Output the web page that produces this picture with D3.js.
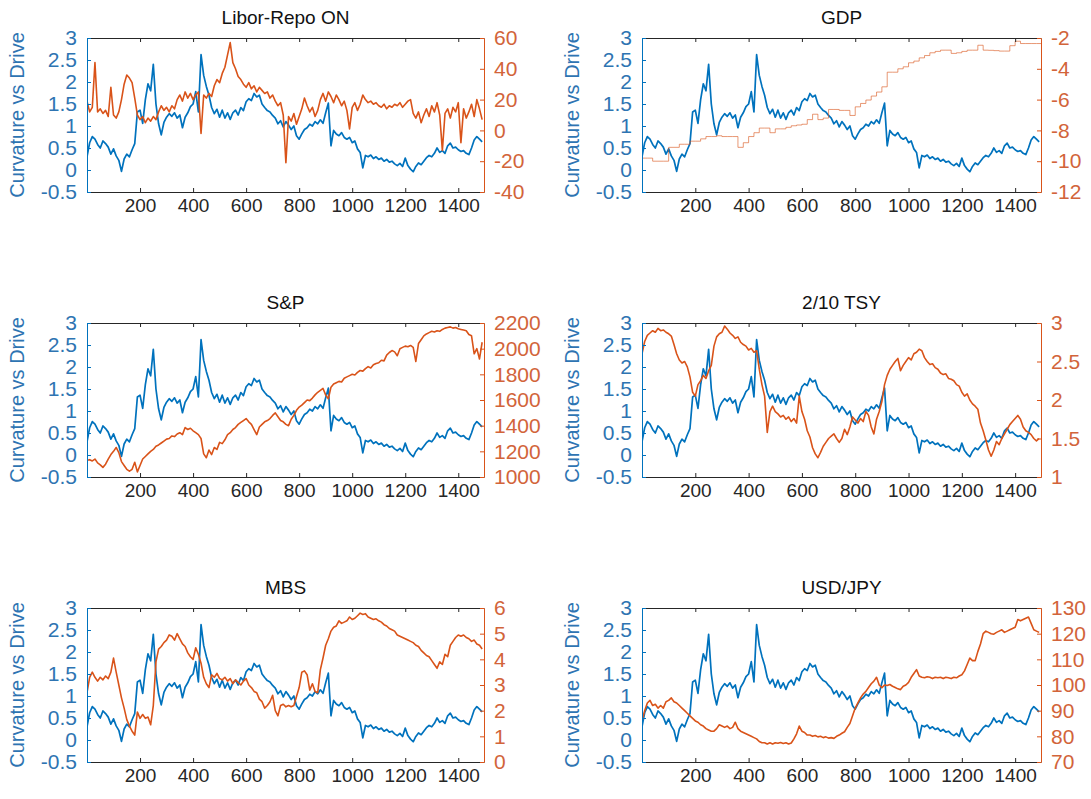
<!DOCTYPE html>
<html>
<head>
<meta charset="utf-8">
<script src="https://cdn.jsdelivr.net/npm/d3@7"></script>
<style>
  body { margin: 0; background: #fff; }
  svg { display: block; font-family: "Liberation Sans", Arial, sans-serif; }
</style>
</head>
<body>
<div id="chart"></div>
<script>
// sample spacing (in index units) of the arrays below
const STEP = 10;
const GDP_STEP = 20;
const X_MAX = 1497;
const X_TICKS = [200, 400, 600, 800, 1000, 1200, 1400];
const LEFT_TICKS = [-0.5, 0, 0.5, 1, 1.5, 2, 2.5, 3];

// blue series, same in every panel (index 0, 10, 20 ...)
const curvature = [
  0.3, 0.62, 0.76, 0.7, 0.58, 0.5, 0.66, 0.6, 0.52, 0.36, 0.48, 0.32, 0.22, -0.03, 0.25, 0.36, 0.3, 0.46, 0.6, 1.32,
  1.36, 1.06, 1.6, 1.96, 1.8, 2.4, 1.5, 1.05, 0.8, 1.08, 1.2, 1.28, 1.22, 1.3, 1.18, 1.25, 0.96, 1.2, 1.3, 1.44,
  1.5, 1.78, 1.32, 2.62, 2.15, 1.9, 1.7, 1.42, 1.28, 1.38, 1.2, 1.36, 1.18, 1.3, 1.15, 1.3, 1.36, 1.25, 1.42, 1.35,
  1.55, 1.62, 1.58, 1.74, 1.66, 1.7, 1.5, 1.42, 1.35, 1.32, 1.24, 1.18, 1.05, 1.12, 0.98, 1.1, 1.02, 0.92, 1.0, 0.78,
  0.7, 0.82, 0.92, 0.96, 1.04, 1.0, 1.1, 1.05, 1.14, 1.06, 1.3, 1.52, 0.55, 0.9, 0.82, 0.78, 0.85, 0.74, 0.7, 0.74,
  0.62, 0.66, 0.48, 0.4, 0.05, 0.33, 0.3, 0.34, 0.26, 0.3, 0.24, 0.27, 0.2, 0.24, 0.18, 0.2, 0.14, 0.1, 0.15, 0.08,
  0.27, 0.1, 0.02, -0.04, 0.08, 0.16, 0.12, 0.2, 0.28, 0.33, 0.3, 0.38, 0.5, 0.4, 0.44, 0.38, 0.55, 0.61, 0.5, 0.52,
  0.46, 0.42, 0.44, 0.38, 0.35, 0.5, 0.68, 0.76, 0.7, 0.64
];

const libor = [
  19, 12, 15, 44, 12, 14, 11, 13, 9, 28, 10, 8, 12, 20, 30, 36, 34, 31, 21, 10,
  7, 9, 5, 8, 6, 9, 7, 12, 16, 13, 15, 12, 16, 14, 20, 23, 19, 25, 21, 24,
  20, 23, 25, -2, 23, 21, 24, 22, 29, 33, 31, 37, 41, 49, 57, 44, 40, 35, 33, 30,
  28, 31, 27, 29, 25, 28, 26, 24, 25, 21, 23, 19, 16, 18, 10, -21, 9, 6, 11, 4,
  9, 14, 21, 16, 12, 15, 9, 13, 20, 24, 19, 25, 22, 18, 23, 20, 16, 19, 13, 1,
  15, 18, 13, 17, 23, 20, 18, 19, 17, 18, 16, 15, 17, 14, 16, 15, 17, 16, 18, 15,
  17, 19, 20, 11, 8, 12, 5, 10, 14, 9, 16, 12, 18, 10, -13, 11, 14, 8, 15, 12,
  18, -8, 14, 8, 12, 17, 9, 20, 14, 7
];

// GDP is a step series, one value per 20 index units
const gdp = [
  -9.8, -9.8, -10.0, -10.0, -10.0, -9.1, -9.1, -8.9, -8.9, -8.7, -8.7, -8.55, -8.4, -8.4, -8.35, -8.4, -8.4, -8.4, -9.1, -8.8,
  -8.4, -8.15, -7.85, -7.85, -8.15, -7.9, -7.9, -7.8, -7.7, -7.65, -7.6, -7.3, -6.95, -7.3, -7.2, -6.64, -6.64, -6.7, -6.7, -7.03,
  -6.47, -6.25, -6.03, -5.77, -5.51, -5.17, -4.22, -4.22, -4.0, -3.87, -3.61, -3.5, -3.29, -3.14, -2.96, -2.87, -2.79, -2.79, -3.0, -2.96,
  -2.87, -2.79, -2.79, -2.47, -2.79, -2.8, -2.82, -2.85, -2.85, -2.5, -2.21, -2.36, -2.36, -2.36, -2.36
];

const sp = [
  1130, 1135, 1125, 1140, 1110, 1095, 1075, 1100, 1140, 1175, 1200, 1230, 1190, 1120, 1090, 1060, 1045, 1060, 1115, 1040,
  1090, 1140, 1160, 1180, 1200, 1215, 1240, 1250, 1265, 1280, 1295, 1300, 1320, 1315, 1335, 1345, 1330, 1385, 1370, 1380,
  1360, 1345, 1330, 1300, 1180, 1150, 1210, 1175, 1230, 1215, 1270, 1260, 1290, 1330, 1345, 1370, 1385, 1410, 1425, 1440,
  1455, 1430, 1410, 1370, 1330, 1390, 1410, 1430, 1440, 1455, 1480, 1500, 1470, 1440, 1430, 1410, 1400, 1450, 1480, 1520,
  1545, 1560, 1580, 1600, 1595, 1615, 1640, 1660, 1675, 1690, 1640, 1610, 1700, 1725, 1735, 1745, 1740, 1770, 1780, 1790,
  1800, 1795, 1815, 1830, 1825, 1845, 1860, 1850, 1875, 1885, 1890, 1910, 1905, 1950, 1970, 1985, 1975, 1945, 2000, 2010,
  2020, 2015, 2025, 2010, 1900, 2040, 2070, 2100, 2115, 2125, 2135, 2130, 2140, 2135, 2150, 2160, 2165, 2170, 2160, 2165,
  2155, 2150, 2145, 2140, 2110, 2100, 1960, 2000, 1920, 2050
];

const tsy = [
  2.6, 2.76, 2.84, 2.87, 2.9, 2.88, 2.93, 2.9, 2.91, 2.88, 2.86, 2.83, 2.72, 2.6, 2.52, 2.48, 2.5, 2.43, 2.3, 2.1,
  2.05, 2.2, 2.25, 2.32, 2.28, 2.38, 2.45, 2.7, 2.82, 2.86, 2.88, 2.96, 2.92, 2.87, 2.84, 2.8, 2.82, 2.75, 2.72, 2.7,
  2.65, 2.67, 2.62, 2.64, 2.4, 2.2, 2.05, 1.58, 1.85, 1.92, 1.85, 1.82, 1.78, 1.8, 1.75, 1.78, 1.72, 1.76, 1.7, 2.05,
  1.85, 1.75, 1.6, 1.52, 1.38, 1.3, 1.25, 1.32, 1.4, 1.45, 1.5, 1.53, 1.56, 1.5, 1.45, 1.5, 1.62, 1.55, 1.65, 1.78,
  1.74, 1.7, 1.76, 1.72, 1.85, 1.8, 1.65, 1.56, 1.75, 1.85, 1.98, 2.2, 2.32, 2.4, 2.45, 2.5, 2.54, 2.38, 2.45, 2.5,
  2.55, 2.52, 2.6, 2.62, 2.66, 2.64, 2.55, 2.5, 2.46, 2.47, 2.42, 2.4, 2.35, 2.33, 2.34, 2.28, 2.27, 2.25, 2.2, 2.18,
  2.1, 2.05, 2.08, 2.0, 1.95, 1.92, 1.88, 1.7, 1.6, 1.48, 1.35, 1.27, 1.35, 1.46, 1.42, 1.5, 1.56, 1.62, 1.68, 1.72,
  1.76, 1.8, 1.75, 1.65, 1.6, 1.58, 1.55, 1.5, 1.47, 1.5
];

const mbs = [
  2.7, 3.3, 3.5, 3.3, 3.15, 3.3, 3.2, 3.35, 3.25, 3.5, 4.05, 3.5, 3.0, 2.5, 2.1, 1.65, 1.4, 1.2, 1.05, 1.95,
  1.7, 1.85, 1.7, 1.75, 1.45, 2.2, 3.9, 4.4, 4.5, 4.65, 4.75, 4.95, 4.9, 4.75, 5.0, 4.8, 4.6, 4.5, 4.25, 4.1,
  4.0, 4.45, 4.2, 3.85, 3.3, 3.05, 2.9, 3.4, 3.3, 3.45, 3.25, 3.2, 3.3, 3.15, 3.25, 3.05, 3.2, 3.1, 3.0, 3.15,
  3.25, 3.0, 2.9, 2.75, 2.7, 2.45, 2.35, 2.1, 2.2, 2.35, 2.6, 2.0, 1.8, 2.2, 2.25, 2.15, 2.2, 2.15, 2.2, 2.55,
  2.9, 3.5, 3.55, 3.4, 2.8, 3.05, 2.75, 2.7, 3.6, 4.05, 4.55, 4.8, 5.1, 5.25, 5.3, 5.5, 5.4, 5.45, 5.5, 5.65,
  5.55, 5.6, 5.7, 5.8, 5.75, 5.78, 5.65, 5.6, 5.55, 5.58, 5.5, 5.45, 5.35, 5.3, 5.2, 5.15, 5.1, 4.95, 4.9, 4.85,
  4.8, 4.75, 4.7, 4.65, 4.55, 4.5, 4.35, 4.25, 4.15, 4.1, 3.95, 3.8, 3.65, 3.9, 3.8, 4.2, 4.1, 4.55, 4.7, 4.85,
  4.95, 4.9, 4.95, 4.85, 4.8, 4.7, 4.75, 4.6, 4.55, 4.4
];

const usdjpy = [
  86, 90, 93, 94, 92, 92.5, 91, 92, 91, 93.5, 94, 95, 93.5, 93, 92, 91, 90, 89, 88, 87,
  86, 85.5, 84.5, 84, 83, 82.5, 82, 82, 83, 84.5, 84, 83.5, 84, 83, 83.5, 85.5, 83, 82, 81.5, 81,
  80.5, 80, 79.5, 79, 78, 77.5, 77.5, 77, 77.5, 77, 77.5, 77.3, 77.6, 77.2, 77.5, 77, 77.4, 79, 81, 84,
  82, 81.5, 80.5, 80.5, 80, 80.3, 79.8, 80, 79.5, 79.8, 79.3, 79.5, 79.2, 80, 80.5, 81.2, 81.8, 83.5, 85, 88,
  91, 93, 95, 96.5, 97.5, 99, 100.5, 101.5, 103, 100, 99, 100, 99.8, 100.2, 99.5, 99, 98.5, 98.2, 99.5, 100,
  101, 103, 104.5, 106, 103.5, 103, 102.8, 103.2, 103, 102.5, 103, 102.8, 103, 102.5, 103, 102.8, 102.5, 103, 102.8, 103.5,
  104, 105.5, 108, 110.5, 109.5, 109.5, 113, 116, 120, 121, 120.5, 120, 119.8, 120.5, 121, 121.5, 120.5, 121, 121.5, 122,
  122.5, 125.5, 125, 125.5, 126, 126.5, 124, 121.5, 121, 120.5
];

const panels = [
  { title: 'Libor-Repo ON', values: libor, step: STEP, domain: [-40, 60], ticks: [-40, -20, 0, 20, 40, 60] },
  { title: 'GDP', values: gdp, step: GDP_STEP, stairs: true, domain: [-12, -2], ticks: [-12, -10, -8, -6, -4, -2] },
  { title: 'S&P', values: sp, step: STEP, domain: [1000, 2200], ticks: [1000, 1200, 1400, 1600, 1800, 2000, 2200] },
  { title: '2/10 TSY', values: tsy, step: STEP, domain: [1, 3], ticks: [1, 1.5, 2, 2.5, 3] },
  { title: 'MBS', values: mbs, step: STEP, domain: [0, 6], ticks: [0, 1, 2, 3, 4, 5, 6] },
  { title: 'USD/JPY', values: usdjpy, step: STEP, domain: [70, 130], ticks: [70, 80, 90, 100, 110, 120, 130] }
];

const BLUE = '#0072BD', ORANGE = '#D95319', DARK = '#262626';
const BLUE_TXT = '#2E74B2', ORANGE_TXT = '#D2643A';
const FONT = '"Liberation Sans", Arial, sans-serif';
const fmt = d => String(d);   // plain numbers, ASCII minus, no thousands separator

const W = 1091, H = 799;
const colX = [{ l: 87, w: 397 }, { l: 642, w: 399 }];
const rowY = [38, 323, 608];
const boxH = 154;

const svg = d3.select('#chart').append('svg').attr('width', W).attr('height', H);

panels.forEach((p, i) => drawPanel(p, i));

function styleAxis(g, lineColor, textColor, size) {
  g.attr('color', lineColor).attr('font-size', size).attr('font-family', FONT);
  g.select('.domain').attr('stroke-width', 1);
  g.selectAll('text').attr('fill', textColor);
}

function drawPanel(p, i) {
  const c = colX[i % 2], top = rowY[Math.floor(i / 2)];
  const g = svg.append('g');

  const x = d3.scaleLinear().domain([0, X_MAX]).range([c.l, c.l + c.w]);
  const yL = d3.scaleLinear().domain([-0.5, 3]).range([top + boxH, top]);
  const yR = d3.scaleLinear().domain(p.domain).range([top + boxH, top]);

  const clipId = 'clip' + i;
  g.append('clipPath').attr('id', clipId).append('rect')
    .attr('x', c.l).attr('y', top).attr('width', c.w).attr('height', boxH);

  // blue line (left axis)
  const blue = curvature.map((v, k) => [k * STEP, v]);
  g.append('path')
    .attr('clip-path', `url(#${clipId})`)
    .attr('d', d3.line().x(d => x(d[0])).y(d => yL(d[1]))(blue))
    .attr('fill', 'none').attr('stroke', BLUE).attr('stroke-width', 1.7)
    .attr('stroke-linejoin', 'round');

  // orange line (right axis)
  let pts = p.values.map((v, k) => [k * p.step, v]);
  const line = d3.line().x(d => x(d[0])).y(d => yR(d[1]));
  if (p.stairs) {
    pts = pts.concat([[X_MAX, p.values[p.values.length - 1]]]);
    line.curve(d3.curveStepAfter);
  }
  g.append('path')
    .attr('clip-path', `url(#${clipId})`)
    .attr('d', line(pts))
    .attr('fill', 'none').attr('stroke', ORANGE)
    .attr('stroke-width', p.stairs ? 1 : 1.6)
    .attr('stroke-opacity', p.stairs ? 0.6 : 1)
    .attr('stroke-linejoin', 'round');

  // axes box, ticks point inward
  g.append('g').attr('transform', `translate(0,${top})`)
    .call(d3.axisTop(x).tickValues(X_TICKS).tickSize(-4).tickSizeOuter(0).tickFormat(''))
    .call(a => styleAxis(a, DARK, DARK, 19));

  g.append('g').attr('transform', `translate(0,${top + boxH})`)
    .call(d3.axisBottom(x).tickValues(X_TICKS).tickSize(-4).tickSizeOuter(0).tickPadding(7).tickFormat(fmt))
    .call(a => styleAxis(a, DARK, DARK, 19));

  g.append('g').attr('transform', `translate(${c.l},0)`)
    .call(d3.axisLeft(yL).tickValues(LEFT_TICKS).tickSize(-4).tickSizeOuter(0).tickPadding(10).tickFormat(fmt))
    .call(a => styleAxis(a, BLUE, BLUE_TXT, 21));

  g.append('g').attr('transform', `translate(${c.l + c.w},0)`)
    .call(d3.axisRight(yR).tickValues(p.ticks).tickSize(-4).tickSizeOuter(0).tickPadding(10).tickFormat(fmt))
    .call(a => styleAxis(a, ORANGE, ORANGE_TXT, 21));

  // title
  g.append('text')
    .attr('x', c.l + c.w / 2).attr('y', top - 14)
    .attr('text-anchor', 'middle')
    .attr('font-size', 19).attr('fill', '#111')
    .text(p.title);

  // left y label
  g.append('text')
    .attr('transform', `translate(${c.l - 63},${top + boxH / 2}) rotate(-90)`)
    .attr('text-anchor', 'middle')
    .attr('font-size', 20).attr('fill', BLUE_TXT)
    .text('Curvature vs Drive');
}
</script>
</body>
</html>
